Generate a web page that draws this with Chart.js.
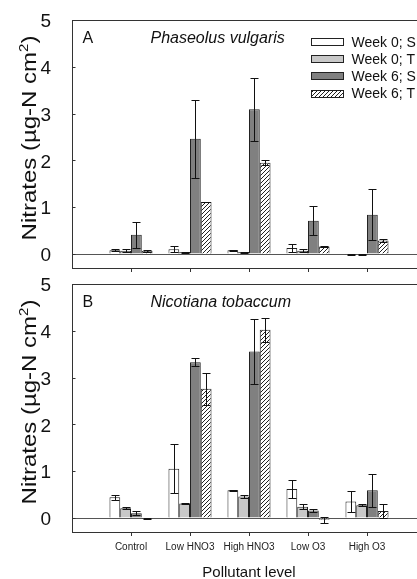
<!DOCTYPE html>
<html lang="en">
<head>
<meta charset="UTF-8">
<title>Nitrates by pollutant level</title>
<script src="https://cdn.jsdelivr.net/npm/chart.js"></script>
<style>
  html, body { margin: 0; padding: 0; background: #fff; overflow: hidden; }
  #wrap { position: relative; width: 417px; height: 579px; overflow: hidden; background: #fff; }
  canvas { position: absolute; left: 0; }
</style>
</head>
<body>
<div id="wrap">
  <canvas id="chartA" width="440" height="284" style="top:0px"></canvas>
  <canvas id="chartB" width="440" height="320" style="top:265px"></canvas>
</div>
<script>
const categories = ['Control', 'Low HNO3', 'High HNO3', 'Low O3', 'High O3'];
const seriesNames = ['Week 0; S', 'Week 0; T', 'Week 6; S', 'Week 6; T'];
const yTicks = [0, 1, 2, 3, 4, 5];

// Panel A - Phaseolus vulgaris
const beanW0S = [0.08, 0.10, 0.08, 0.13, -0.02];
const beanW0T = [0.07, 0.04, 0.04, 0.07, -0.02];
const beanW6S = [0.41, 2.46, 3.09, 0.71, 0.84];
const beanW6T = [0.07, 1.11, 1.95, 0.16, 0.29];
const beanW0SErr = [0.02, 0.06, 0.01, 0.09, 0.01];
const beanW0TErr = [0.03, 0.01, 0.01, 0.03, 0.01];
const beanW6SErr = [0.28, 0.84, 0.67, 0.31, 0.54];
const beanW6TErr = [0.02, 0.01, 0.05, 0.02, 0.03];

// Panel B - Nicotiana tobaccum
const tobW0S = [0.44, 1.05, 0.59, 0.62, 0.35];
const tobW0T = [0.21, 0.31, 0.46, 0.24, 0.27];
const tobW6S = [0.10, 3.33, 3.56, 0.16, 0.59];
const tobW6T = [-0.02, 2.76, 4.02, -0.04, 0.15];
const tobW0SErr = [0.05, 0.52, 0.01, 0.19, 0.23];
const tobW0TErr = [0.02, 0.02, 0.03, 0.05, 0.02];
const tobW6SErr = [0.04, 0.09, 0.69, 0.04, 0.35];
const tobW6TErr = [0.01, 0.34, 0.25, 0.06, 0.15];

const FONT = "'Liberation Sans', Arial, sans-serif";
Chart.defaults.font.family = FONT;
Chart.defaults.color = '#111';

function makeHatch() {
    const c = document.createElement('canvas');
    c.width = 4; c.height = 4;
    const g = c.getContext('2d');
    g.fillStyle = '#fff';
    g.fillRect(0, 0, 4, 4);
    g.strokeStyle = '#222';
    g.lineWidth = 1;
    g.beginPath();
    g.moveTo(0, 4); g.lineTo(4, 0);
    g.moveTo(-1, 1); g.lineTo(1, -1);
    g.moveTo(3, 5); g.lineTo(5, 3);
    g.stroke();
    return g.createPattern(c, 'repeat');
}

const fills = ['#ffffff', '#c8c8c8', '#808080', makeHatch()];

// empty slots at both ends, like the original x range
const pad = arr => [null, ...arr, null];
const xLabels = pad(categories).map(v => v === null ? '' : v);

// draws frame, zero line, inner y ticks, error bars, panel text, legend
const panelPlugin = {
    id: 'panel',
    beforeDatasetsDraw(chart, args, opts) {
        const { ctx, chartArea: a, scales: { y } } = chart;
        const y0 = Math.round(y.getPixelForValue(0)) + 0.5;
        ctx.save();
        ctx.strokeStyle = '#555';
        ctx.lineWidth = 1;
        ctx.beginPath();
        ctx.moveTo(a.left, y0);
        ctx.lineTo(a.right, y0);
        ctx.stroke();
        ctx.restore();
    },
    afterDatasetsDraw(chart, args, opts) {
        const { ctx, chartArea: a, scales: { y } } = chart;
        ctx.save();

        // error bars
        ctx.strokeStyle = '#111';
        ctx.lineWidth = 1;
        chart.data.datasets.forEach((ds, i) => {
            const meta = chart.getDatasetMeta(i);
            meta.data.forEach((bar, j) => {
                const v = ds.data[j];
                const e = ds.errors[j];
                if (v === null || e === null) return;
                const x = Math.round(bar.x) + 0.5;
                const yHi = Math.round(y.getPixelForValue(v + e)) + 0.5;
                const yLo = Math.round(y.getPixelForValue(v - e)) + 0.5;
                const cap = 4;
                ctx.beginPath();
                ctx.moveTo(x, yHi); ctx.lineTo(x, yLo);
                ctx.moveTo(x - cap, yHi); ctx.lineTo(x + cap, yHi);
                ctx.moveTo(x - cap, yLo); ctx.lineTo(x + cap, yLo);
                ctx.stroke();
            });
        });

        // frame
        const L = Math.round(a.left) + 0.5, T = Math.round(a.top) + 0.5;
        const R = Math.round(a.right) + 0.5, B = Math.round(a.bottom) + 0.5;
        ctx.strokeStyle = '#333';
        ctx.strokeRect(L, T, R - L, B - T);

        // y tick marks pointing inwards
        ctx.beginPath();
        yTicks.forEach(t => {
            const py = Math.round(y.getPixelForValue(t)) + 0.5;
            ctx.moveTo(L, py); ctx.lineTo(L + 3, py);
        });
        ctx.stroke();

        // panel letter and species
        ctx.fillStyle = '#111';
        ctx.textBaseline = 'alphabetic';
        ctx.font = '16px ' + FONT;
        ctx.fillText(opts.letter, a.left + 10.5, a.top + 23);
        ctx.font = 'italic 16px ' + FONT;
        ctx.fillText(opts.species, a.left + 78.5, a.top + 23);

        // y title with superscript
        ctx.save();
        ctx.translate(31, (a.top + a.bottom) / 2 - 6);
        ctx.rotate(-Math.PI / 2);
        ctx.scale(1, 0.83);
        ctx.textBaseline = 'middle';
        const big = '24px ' + FONT, small = '15px ' + FONT;
        const p1 = 'Nitrates (\u00b5g-N cm', p2 = '2', p3 = ')';
        ctx.font = big;
        const w1 = ctx.measureText(p1).width, w3 = ctx.measureText(p3).width;
        ctx.font = small;
        const w2 = ctx.measureText(p2).width;
        let tx = -(w1 + w2 + w3) / 2;
        ctx.font = big;
        ctx.fillText(p1, tx, 0);
        tx += w1;
        ctx.font = small;
        ctx.fillText(p2, tx, -8);
        tx += w2;
        ctx.font = big;
        ctx.fillText(p3, tx, 0);
        ctx.restore();

        // legend
        if (opts.legend) {
            ctx.font = '14px ' + FONT;
            ctx.textBaseline = 'middle';
            chart.data.datasets.forEach((ds, i) => {
                const ry = a.top + 22 + i * 17.2;
                const bx = Math.round(a.left + 239) + 0.5;
                const by = Math.round(ry - 4) + 0.5;
                ctx.fillStyle = ds.backgroundColor;
                ctx.fillRect(bx, by, 32, 7);
                ctx.strokeStyle = '#222';
                ctx.strokeRect(bx, by, 32, 7);
                ctx.fillStyle = '#111';
                ctx.fillText(ds.label, a.left + 279.5, ry + 1);
            });
        }
        ctx.restore();
    }
};

function makeChart(id, values, errors, panel) {
    const datasets = seriesNames.map((name, i) => ({
        label: name,
        data: pad(values[i]),
        errors: pad(errors[i]),
        backgroundColor: fills[i],
        borderColor: '#222',
        borderWidth: 1,
        categoryPercentage: 0.73,
        barPercentage: 1
    }));

    return new Chart(document.getElementById(id), {
        type: 'bar',
        data: { labels: xLabels, datasets: datasets },
        plugins: [panelPlugin],
        options: {
            responsive: false,
            animation: false,
            events: [],
            layout: { padding: { top: panel.padTop, right: 14, left: 0, bottom: 0 } },
            plugins: {
                legend: { display: false },
                tooltip: { enabled: false },
                panel: panel
            },
            scales: {
                x: {
                    offset: false,
                    border: { display: false },
                    grid: {
                        offset: false,
                        drawOnChartArea: false,
                        drawTicks: true,
                        tickLength: 4,
                        color: c => (c.index === 0 || c.index === xLabels.length - 1) ? 'rgba(0,0,0,0)' : '#333'
                    },
                    ticks: {
                        display: panel.showX,
                        autoSkip: false,
                        maxRotation: 0,
                        padding: 5,
                        color: '#222',
                        font: { size: 10 }
                    },
                    title: {
                        display: panel.showX,
                        text: 'Pollutant level',
                        color: '#111',
                        font: { size: 15 },
                        padding: { top: 0, bottom: 3 }
                    },
                    afterFit: s => { s.height = panel.xHeight; }
                },
                y: {
                    min: -0.3,
                    max: 5,
                    border: { display: false },
                    // invisible tick marks only push the labels left
                    grid: {
                        display: true,
                        drawOnChartArea: false,
                        drawTicks: true,
                        tickLength: 17,
                        color: 'rgba(0,0,0,0)'
                    },
                    ticks: { padding: 4, labelOffset: 2, font: { size: 19 }, color: '#111' },
                    afterBuildTicks: s => { s.ticks = yTicks.map(v => ({ value: v })); },
                    afterFit: s => { s.width = 72; }
                }
            }
        }
    });
}

makeChart('chartA',
    [beanW0S, beanW0T, beanW6S, beanW6T],
    [beanW0SErr, beanW0TErr, beanW6SErr, beanW6TErr],
    { letter: 'A', species: 'Phaseolus vulgaris', legend: true, showX: false, padTop: 20, xHeight: 16 });

makeChart('chartB',
    [tobW0S, tobW0T, tobW6S, tobW6T],
    [tobW0SErr, tobW0TErr, tobW6SErr, tobW6TErr],
    { letter: 'B', species: 'Nicotiana tobaccum', legend: false, showX: true, padTop: 19, xHeight: 53 });
</script>
</body>
</html>
